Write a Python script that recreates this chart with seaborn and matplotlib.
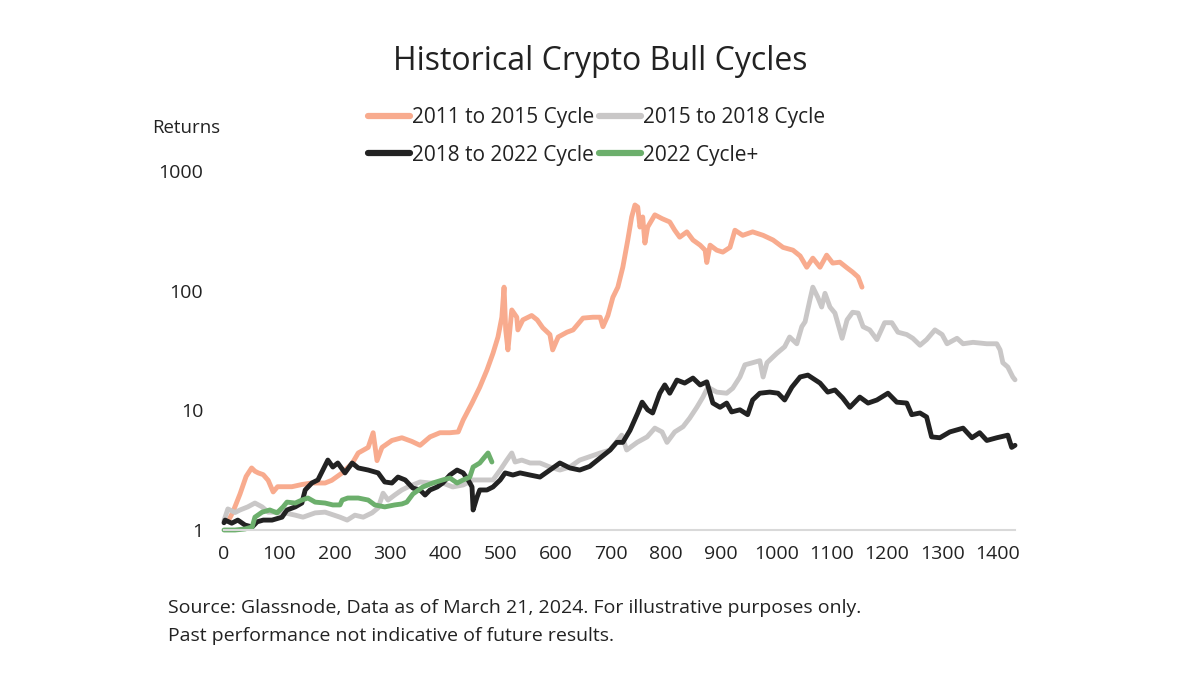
import matplotlib
matplotlib.use("Agg")
import matplotlib.pyplot as plt
import seaborn as sns
import pandas as pd
from matplotlib.ticker import NullLocator

# Series names and colours
CYCLES = ["2011 to 2015 Cycle", "2015 to 2018 Cycle", "2018 to 2022 Cycle", "2022 Cycle+"]
COLORS = ["#F8AB8E", "#C9C7C7", "#222222", "#6CAF6C"]

# 2011 to 2015 cycle (days since start, returns multiple)
days_2011 = [8, 16, 29, 40, 50, 56, 62, 71, 80, 89, 97, 105, 123, 141, 159, 183, 195, 214, 232, 243,
             261, 270, 277, 286, 304, 322, 340, 355, 373, 391, 409, 424, 433, 449, 463, 476, 487, 496, 503, 507,
             510, 514, 521, 530, 532, 541, 557, 567, 577, 590, 595, 605, 621, 632, 650, 668, 681, 686, 695, 704,
             713, 722, 731, 738, 744, 749, 753, 758, 762, 767, 780, 793, 807, 816, 825, 838, 849, 862, 871, 874,
             880, 892, 903, 916, 925, 939, 957, 976, 994, 1012, 1030, 1043, 1055, 1066, 1079, 1091, 1102, 1115,
             1128, 1138, 1148, 1155]
ret_2011 = [1.2, 1.41, 2.0, 2.8, 3.3, 3.1, 3.0, 2.9, 2.6, 2.08, 2.3, 2.3, 2.3, 2.4, 2.47, 2.47, 2.6, 3.0, 3.6, 4.4,
            4.9, 6.5, 3.8, 4.9, 5.6, 5.9, 5.5, 5.1, 6.0, 6.5, 6.5, 6.6, 8.3, 11.5, 15.6, 21.7, 30, 41, 60, 107,
            47, 32, 69, 60, 47, 57, 62, 57, 49, 43, 32, 41, 45, 47, 59, 60, 60, 50, 62, 88,
            107, 157, 265, 413, 520, 500, 340, 413, 250, 340, 430, 400, 375, 320, 280, 310, 265, 240, 218, 172,
            240, 218, 210, 230, 320, 290, 310, 290, 265, 230, 218, 195, 157, 187, 157, 198, 170, 173,
            155, 143, 130, 107]

# 2015 to 2018 cycle
days_2015 = [0, 7, 20, 29, 43, 56, 69, 80, 96, 110, 129, 143, 165, 183, 210, 223, 237, 252, 268, 279,
             288, 297, 309, 322, 333, 355, 373, 396, 414, 433, 451, 487, 500, 512, 521, 527, 539, 554, 572, 590,
             608, 626, 644, 662, 681, 699, 720, 729, 748, 766, 780, 793, 802, 816, 831, 843, 856, 867, 876, 892,
             910, 921, 934, 943, 957, 970, 976, 983, 1001, 1015, 1024, 1037, 1046, 1052, 1061, 1066, 1075, 1082,
             1088, 1097, 1106, 1119, 1128, 1138, 1148, 1157, 1169, 1182, 1196, 1209, 1220, 1236, 1247, 1260,
             1272, 1287, 1300, 1309, 1327, 1338, 1356, 1381, 1399, 1405, 1410, 1419, 1428, 1432]
ret_2015 = [1.2, 1.5, 1.4, 1.47, 1.56, 1.68, 1.56, 1.41, 1.41, 1.39, 1.33, 1.28, 1.39, 1.41, 1.28, 1.21, 1.33, 1.28,
            1.39, 1.53, 2.03, 1.78, 1.96, 2.16, 2.29, 2.52, 2.47, 2.47, 2.29, 2.38, 2.62, 2.62, 3.17, 3.84, 4.4,
            3.7, 3.84, 3.63, 3.63, 3.36, 3.17, 3.36, 3.84, 4.1, 4.4, 4.66, 6.2, 4.66, 5.4, 6.0, 7.1, 6.6, 5.4,
            6.6, 7.3, 8.6, 10.6, 12.9, 15.6, 14.2, 13.9, 15.3, 19, 24, 25, 26, 19, 25, 30, 34, 41, 36, 50, 55,
            85, 107, 88, 73, 95, 73, 65, 40, 57, 66, 65, 50, 47, 39, 54, 54, 45, 43, 40, 35, 39, 47, 43, 36,
            40, 36, 37, 36, 36, 32, 25, 23, 19, 18]

# 2018 to 2022 cycle
days_2018 = [0, 2, 14, 25, 38, 51, 60, 71, 87, 105, 114, 129, 141, 147, 159, 170, 179, 188, 197, 206,
             219, 232, 243, 261, 279, 291, 304, 315, 328, 342, 355, 364, 373, 386, 396, 409, 422, 433, 442, 449,
             451, 458, 463, 476, 487, 500, 509, 523, 536, 554, 572, 590, 608, 626, 644, 662, 681, 699, 711, 722,
             735, 749, 757, 767, 776, 789, 798, 807, 820, 834, 849, 862, 874, 885, 898, 910, 919, 934, 948, 957,
             970, 988, 1003, 1015, 1028, 1043, 1057, 1079, 1093, 1106, 1120, 1133, 1151, 1166, 1182, 1202, 1218,
             1236, 1245, 1260, 1272, 1281, 1296, 1314, 1338, 1354, 1368, 1381, 1399, 1419, 1426, 1432]
ret_2018 = [1.15, 1.21, 1.14, 1.21, 1.10, 1.06, 1.17, 1.21, 1.21, 1.28, 1.47, 1.56, 1.68, 2.16, 2.47, 2.62, 3.17,
            3.84, 3.36, 3.63, 3.0, 3.63, 3.3, 3.17, 3.0, 2.52, 2.47, 2.77, 2.62, 2.24, 2.16, 1.96, 2.16, 2.29,
            2.47, 2.88, 3.17, 3.0, 2.62, 2.29, 1.47, 1.88, 2.16, 2.16, 2.29, 2.62, 3.0, 2.88, 3.0, 2.88, 2.77,
            3.17, 3.63, 3.3, 3.17, 3.4, 4.0, 4.66, 5.4, 5.4, 6.8, 9.5, 11.7, 10.1, 9.5, 13.9, 16.3, 13.9, 17.9,
            16.9, 18.6, 16.3, 17.3, 11.5, 10.6, 11.5, 9.7, 10.1, 9.2, 12.2, 13.9, 14.2, 13.9, 12.2, 15.6, 19,
            19.7, 16.9, 14.2, 14.8, 12.7, 10.6, 12.9, 11.5, 12.2, 13.9, 11.7, 11.5, 9.2, 9.5, 8.8, 6.0, 5.9,
            6.6, 7.1, 5.9, 6.5, 5.6, 5.9, 6.2, 4.9, 5.1]

# 2022 cycle (ongoing)
days_2022 = [0, 20, 38, 51, 56, 69, 83, 96, 107, 114, 129, 141, 152, 165, 183, 197, 210, 214, 224, 243,
             261, 273, 291, 309, 322, 331, 342, 360, 378, 396, 409, 422, 433, 445, 451, 463, 472, 478, 485]
ret_2022 = [1.0, 1.0, 1.02, 1.06, 1.28, 1.41, 1.47, 1.39, 1.56, 1.71, 1.68, 1.78, 1.85, 1.71, 1.68, 1.62, 1.62,
            1.78, 1.85, 1.85, 1.78, 1.62, 1.56, 1.62, 1.65, 1.71, 2.0, 2.29, 2.47, 2.62, 2.72, 2.47, 2.62, 2.77,
            3.36, 3.63, 4.08, 4.4, 3.7]

Y_TICKS = [1, 10, 100, 1000]
X_TICKS = list(range(0, 1401, 100))

frames = []
for name, d, r in zip(CYCLES, [days_2011, days_2015, days_2018, days_2022],
                      [ret_2011, ret_2015, ret_2018, ret_2022]):
    frames.append(pd.DataFrame({"day": d, "ret": r, "cycle": name}))
df = pd.concat(frames, ignore_index=True)

sns.set_theme(style="white")
plt.rcParams["font.family"] = ["Open Sans", "DejaVu Sans"]
TXT = "#222222"

fig = plt.figure(figsize=(12, 6.75), dpi=100)
ax = fig.add_axes([224 / 1200, 1 - 530 / 675, (1015 - 224) / 1200, (530 - 171) / 675])

sns.lineplot(data=df, x="day", y="ret", hue="cycle", hue_order=CYCLES,
             palette=dict(zip(CYCLES, COLORS)), estimator=None, sort=False,
             lw=3.5, ax=ax)
for ln in ax.lines:
    ln.set_clip_on(False)
    ln.set_solid_joinstyle("round")

ax.set_yscale("log")
ax.set_ylim(1, 1000)
ax.set_xlim(0, 1432)
ax.set_yticks(Y_TICKS, labels=[str(t) for t in Y_TICKS])
ax.yaxis.set_minor_locator(NullLocator())
ax.set_xticks(X_TICKS, labels=[str(t) for t in X_TICKS])
ax.tick_params(axis="both", length=0, labelsize=14, colors=TXT)
ax.tick_params(axis="y", pad=15)
ax.tick_params(axis="x", pad=11)
ax.set_xlabel("")
ax.set_ylabel("")
for s in ["left", "top", "right"]:
    ax.spines[s].set_visible(False)
ax.spines["bottom"].set_color("#D9D9D9")
ax.spines["bottom"].set_linewidth(1.5)

# legend: two rows, 2011/2015 on top, 2018/2022 below
handles, labels = ax.get_legend_handles_labels()
ax.get_legend().remove()
order = [0, 2, 1, 3]
leg = fig.legend([handles[i] for i in order], [labels[i] for i in order], ncol=2,
                 loc="upper left", bbox_to_anchor=(368 / 1200, 1 - 107 / 675),
                 frameon=False, fontsize=15, borderpad=0, handlelength=2.0,
                 handletextpad=0.1, columnspacing=0.25, labelspacing=0.8, borderaxespad=0)
for h in leg.legend_handles:
    h.set_linewidth(4.5)
for t in leg.get_texts():
    t.set_color(TXT)

fig.text(0.5, 1 - 62 / 675, "Historical Crypto Bull Cycles", ha="center", va="center",
         fontsize=23, color=TXT)
fig.text(152 / 1200, 1 - 128 / 675, "Returns", ha="left", va="center", fontsize=13.4, color=TXT)
fig.text(168 / 1200, 1 - 608 / 675,
         "Source: Glassnode, Data as of March 21, 2024. For illustrative purposes only.",
         ha="left", va="center", fontsize=14, color=TXT)
fig.text(168 / 1200, 1 - 636 / 675, "Past performance not indicative of future results.",
         ha="left", va="center", fontsize=14, color=TXT)

fig.savefig("out.png", dpi=100, facecolor="white")
